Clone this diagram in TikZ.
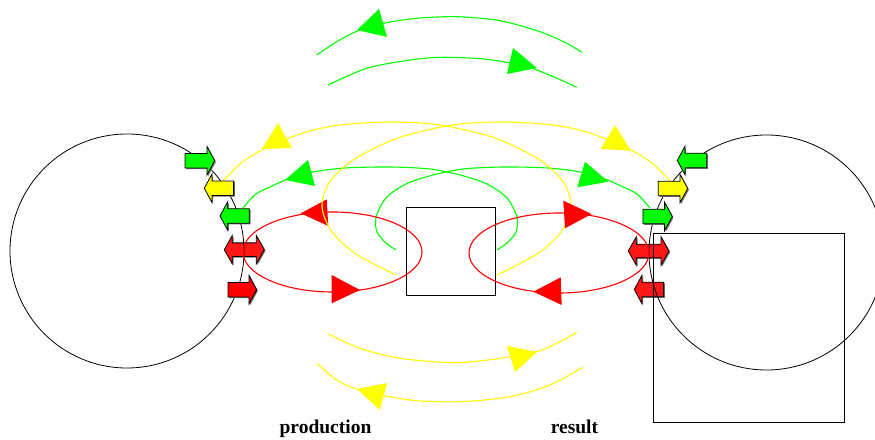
\documentclass[tikz,border=0pt]{standalone}
\usepackage{fontspec}
\setmainfont{Liberation Serif}
\definecolor{fgreen}{RGB}{0,255,0}
\definecolor{fyellow}{RGB}{255,255,0}
\definecolor{fred}{RGB}{255,0,0}
\definecolor{lred}{RGB}{255,24,24}
% single block arrow: colour, tip x, tip y, body length, direction (1 right, -1 left)
\newcommand{\blockarr}[5]{%
  \begin{scope}[shift={(#2,#3)}, xscale=#5]
    \fill[black!55, shift={(1.2*#5,1.2)}] (0,0) -- (-7.7,-14.25) -- (-7.7,-7.25) -- (-7.7-#4,-7.25) -- (-7.7-#4,7.25) -- (-7.7,7.25) -- (-7.7,14.25) -- cycle;
    \filldraw[fill=#1, blockline] (0,0) -- (-7.7,-14.25) -- (-7.7,-7.25) -- (-7.7-#4,-7.25) -- (-7.7-#4,7.25) -- (-7.7,7.25) -- (-7.7,14.25) -- cycle;
  \end{scope}}
% double block arrow: colour, left tip x, y, right tip x
\newcommand{\dblarr}[4]{%
  \fill[black!55, shift={(1.2,1.2)}] (#2,#3) -- (#2+8,#3-14.25) -- (#2+8,#3-6.8) -- (#4-8,#3-6.8) -- (#4-8,#3-14.25) -- (#4,#3) -- (#4-8,#3+14.25) -- (#4-8,#3+6.8) -- (#2+8,#3+6.8) -- (#2+8,#3+14.25) -- cycle;
  \filldraw[fill=#1, blockline] (#2,#3) -- (#2+8,#3-14.25) -- (#2+8,#3-6.8) -- (#4-8,#3-6.8) -- (#4-8,#3-14.25) -- (#4,#3) -- (#4-8,#3+14.25) -- (#4-8,#3+6.8) -- (#2+8,#3+6.8) -- (#2+8,#3+14.25) -- cycle;}
\begin{document}
\begin{tikzpicture}[x=1bp, y=-1bp,
  curve/.style={line width=1.1bp},
  blockline/.style={draw=black, line width=0.8bp, line join=miter},
  thin/.style={draw=black, line width=0.8bp},
  lbl/.style={anchor=base, font=\bfseries\fontsize{19.5bp}{23bp}\selectfont}]
\useasboundingbox (0,0) rectangle (875,440);

% red block arrows lying under the lines
\dblarr{lred}{224.3}{249.7}{264.3}
\dblarr{lred}{628.3}{251}{669}
\blockarr{lred}{634.3}{289.5}{21.6}{-1}

% big circles and squares
\node[circle, thin, minimum size=234bp, inner sep=0] (cL) at (127,251) {};
\node[circle, thin, minimum size=235bp, inner sep=0] (cR) at (766.5,252.5) {};
\node[thin, minimum width=89bp, minimum height=88bp, inner sep=0] (sq) at (450.5,251) {};
\node[thin, minimum width=191bp, minimum height=189bp, inner sep=0] (sqR) at (748.5,327.5) {};

% connector end points
\coordinate (gLsq) at (497,250);  \coordinate (gLc) at (243,208);
\coordinate (gRsq) at (396,250);  \coordinate (gRc) at (650,208);
\coordinate (yLsq) at (497,275);  \coordinate (yLc) at (223,181);
\coordinate (yRsq) at (396,275);  \coordinate (yRc) at (670,181);

% green connectors
\draw[fgreen, curve] plot[smooth] coordinates {(gLsq) (507,243) (516,232) (517,217) (507,198) (487,184) (460,175) (430,169) (390,167) (345,168) (313,172) (288,179) (272,186) (256,194) (gLc)};
\draw[fgreen, curve] plot[smooth] coordinates {(gRsq) (386,243) (377,232) (376,217) (386,198) (406,184) (433,175) (463,169) (503,167) (548,168) (580,172) (605,179) (621,186) (637,194) (gRc)};
\fill[fgreen] (285,180) -- (308,160) -- (315,186) -- cycle;
\fill[fgreen] (608.3,181.7) -- (585,161.7) -- (577.3,187.3) -- cycle;

% yellow connector (left)
\draw[fyellow, curve] plot[smooth] coordinates {(yLsq) (537,254) (561,232) (571,207) (564,183) (540,160) (495,138) (440,125) (390,122) (340,125) (303,133) (262,150) (240,164) (yLc)};
\fill[fyellow] (278,123) -- (262,149) -- (292,148) -- cycle;

% red loops
\draw[fred, curve] (332.5,252) ellipse[x radius=89.5, y radius=40];
\draw[fred, curve] (559,253) ellipse[x radius=90, y radius=40];
\fill[fred] (300.7,213.3) -- (326.7,199.3) -- (328.3,226) -- cycle;
\fill[fred] (360,290) -- (331.7,275) -- (331.7,303.3) -- cycle;
\fill[fred] (591.7,214) -- (563.3,200.7) -- (565,228.3) -- cycle;
\fill[fred] (533.3,291.7) -- (560.7,277.3) -- (561.7,305) -- cycle;

% yellow connector (right)
\draw[fyellow, curve] plot[smooth] coordinates {(yRsq) (356,254) (332,232) (322,207) (329,183) (353,160) (398,138) (453,125) (503,122) (553,125) (590,133) (631,150) (653,164) (yRc)};
\fill[fyellow] (615,125) -- (600.7,149) -- (631,150.7) -- cycle;

% top green arcs
\draw[fgreen, curve] plot[smooth] coordinates {(316.7,55) (336.7,41.7) (358.3,30.7) (386.7,22.7) (416.7,18.3) (456.7,16.7) (500,20.7) (540,31.7) (566.7,43.3) (581.7,52.3)};
\draw[fgreen, curve] plot[smooth] coordinates {(328.3,85) (366.7,68.3) (410,60) (443.3,57.3) (486.7,59.3) (526.7,66.7) (553.3,76.7) (576.7,87.3)};
\fill[fgreen] (357,30) -- (379,9) -- (387,37) -- cycle;
\fill[fgreen] (537,68) -- (513,48) -- (507,74) -- cycle;

% bottom yellow arcs
\draw[fyellow, curve] plot[smooth] coordinates {(328.3,334) (360,348.3) (400,358.3) (453.3,362.7) (493.3,359.3) (536.7,351.7) (560,341.7) (576.7,332.3)};
\draw[fyellow, curve] plot[smooth] coordinates {(317.3,363.3) (336.7,380) (360,390) (410,400) (460,401.7) (510,396.7) (550,385) (582.7,367.3)};
\fill[fyellow] (537,352) -- (507,346) -- (515,372) -- cycle;
\fill[fyellow] (357,389) -- (387,383) -- (380,410) -- cycle;

% block arrows on the left circle
\blockarr{fgreen}{214.7}{160.7}{22}{1}
\blockarr{fyellow}{204.3}{188.3}{21.6}{-1}
\blockarr{fgreen}{220}{216}{21.6}{-1}
\blockarr{fred}{256.7}{289.7}{21}{1}

% block arrows on the right circle
\blockarr{fgreen}{677.3}{160.5}{21.7}{-1}
\blockarr{fyellow}{687.7}{188.5}{21.7}{1}
\blockarr{fgreen}{672.3}{216.5}{21.7}{1}

% labels
\node[lbl] (prod) at (325.5,433) {production};
\node[lbl] (res) at (574.5,433) {result};
\end{tikzpicture}
\end{document}
